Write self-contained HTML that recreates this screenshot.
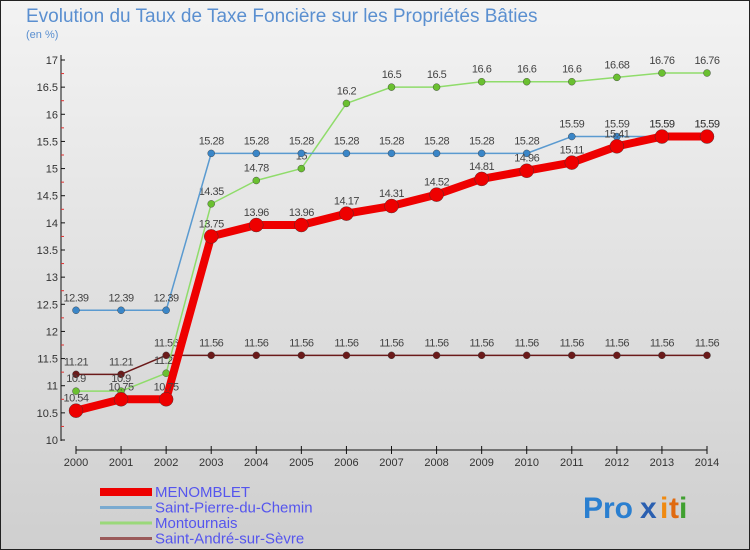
<!DOCTYPE html>
<html><head><meta charset="utf-8"><style>
body{margin:0;width:750px;height:550px;overflow:hidden;font-family:"Liberation Sans",sans-serif}
svg{display:block}
</style></head><body>
<svg width="750" height="550" xmlns="http://www.w3.org/2000/svg">
<defs><linearGradient id="bg" x1="0" y1="0" x2="0" y2="1"><stop offset="0" stop-color="#f3f3f3"/><stop offset="1" stop-color="#cfcfcf"/></linearGradient></defs>
<rect x="0.5" y="0.5" width="749" height="549" fill="url(#bg)" stroke="#222"/>
<text x="26" y="22" font-size="19" fill="#5a8fd0">Evolution du Taux de Taxe Foncière sur les Propriétés Bâties</text>
<text x="26" y="38" font-size="11" fill="#5a8fd0">(en %)</text>
<g id="axes"></g><g id="series"></g><g id="legend"></g>
<g font-size="30" font-weight="bold" font-family="Liberation Sans,sans-serif">
<text x="583" y="518" fill="#2a7fd0">Pro</text><text x="640" y="518" fill="#2a5fb0">x</text><text x="660" y="518" fill="#f08a10">i</text><text x="669" y="518" fill="#e06a10">t</text><text x="679" y="518" fill="#40a030">i</text>
</g>
</svg>
<script>
const years=[2000,2001,2002,2003,2004,2005,2006,2007,2008,2009,2010,2011,2012,2013,2014];
const menomblet=[10.54,10.75,10.75,13.75,13.96,13.96,14.17,14.31,14.52,14.81,14.96,15.11,15.41,15.59,15.59];
const stPierre=[12.39,12.39,12.39,15.28,15.28,15.28,15.28,15.28,15.28,15.28,15.28,15.59,15.59,15.59,15.59];
const montournais=[10.9,10.9,11.23,14.35,14.78,15,16.2,16.5,16.5,16.6,16.6,16.6,16.68,16.76,16.76];
const stAndre=[11.21,11.21,11.56,11.56,11.56,11.56,11.56,11.56,11.56,11.56,11.56,11.56,11.56,11.56,11.56];
const yTicks=[10,10.5,11,11.5,12,12.5,13,13.5,14,14.5,15,15.5,16,16.5,17];
const NS="http://www.w3.org/2000/svg";
const xS=i=>76+i*(707-76)/(years.length-1);
const yS=v=>440-(v-10)*(380/7);
function mk(tag,attrs,parent){const e=document.createElementNS(NS,tag);for(const k in attrs)e.setAttribute(k,attrs[k]);parent.appendChild(e);return e;}
const axes=document.getElementById('axes');
let yl=mk('line',{x1:61,y1:55,x2:61,y2:441,stroke:'#111'},axes);


yTicks.forEach(t=>{
 mk('line',{x1:61,x2:65,y1:yS(t),y2:yS(t),stroke:'#111'},axes);
 if(t<17) mk('line',{x1:61,x2:64,y1:yS(t+0.25),y2:yS(t+0.25),stroke:'#e03030'},axes);
 const tx=mk('text',{x:58,y:yS(t)+4,'font-size':11,'text-anchor':'end',fill:'#333'},axes);
 tx.textContent=t;
 
 
});
let xl=mk('line',{x1:76,y1:450,x2:707,y2:450,stroke:'#111'},axes);


years.forEach((y,i)=>{
 mk('line',{x1:xS(i),x2:xS(i),y1:446,y2:454,stroke:'#111'},axes);
 const tx=mk('text',{x:xS(i),y:466,'font-size':11,'text-anchor':'middle',fill:'#333'},axes);
 tx.textContent=y;
 
 
});
const ser=document.getElementById('series');
const defs=[
 {d:stAndre,c:'#6b1a1a',w:1.5,r:3.5,name:'saint-andre-sur-sevre'},
 {d:montournais,c:'#8fdc6a',pc:'#6ac030',w:1.5,r:3.5,name:'montournais'},
 {d:stPierre,c:'#5a9ad0',pc:'#3a86c8',w:1.5,r:3.5,name:'saint-pierre-du-chemin'},
 {d:menomblet,c:'#ee0000',w:8,r:7,name:'menomblet'}];
defs.forEach(s=>{
 const g=mk('g',{},ser);
 
 
 const pl=mk('polyline',{points:s.d.map((v,i)=>xS(i)+','+yS(v)).join(' '),fill:'none',stroke:s.c,'stroke-width':s.w,'stroke-linejoin':'round'},g);
 
 
 s.d.forEach((v,i)=>{
  const c=mk('circle',{cx:xS(i),cy:yS(v),r:s.r,fill:s.pc||s.c,stroke:'#333','stroke-width':0.4},g);
  
  
  const t=mk('text',{x:xS(i),y:yS(v)-9,'font-size':11,'text-anchor':'middle',fill:'#444','letter-spacing':'-0.5'},g);
  t.textContent=v;
  
  
 });
});
const lg=document.getElementById('legend');
const items=[['MENOMBLET','#ee0000',8],['Saint-Pierre-du-Chemin','#7aaad0',3],['Montournais','#9ad87a',3],['Saint-André-sur-Sèvre','#9a5a5a',3]];
items.forEach((it,i)=>{
 const y=492+i*15.5;
 const g=mk('g',{},lg);
 
 
 mk('line',{x1:100,x2:152,y1:y,y2:y,stroke:it[1],'stroke-width':it[2]},g);
 const t=mk('text',{x:155,y:y+5,'font-size':15,fill:'#5555ee'},g);
 t.textContent=it[0];
});
</script>
</body></html>
